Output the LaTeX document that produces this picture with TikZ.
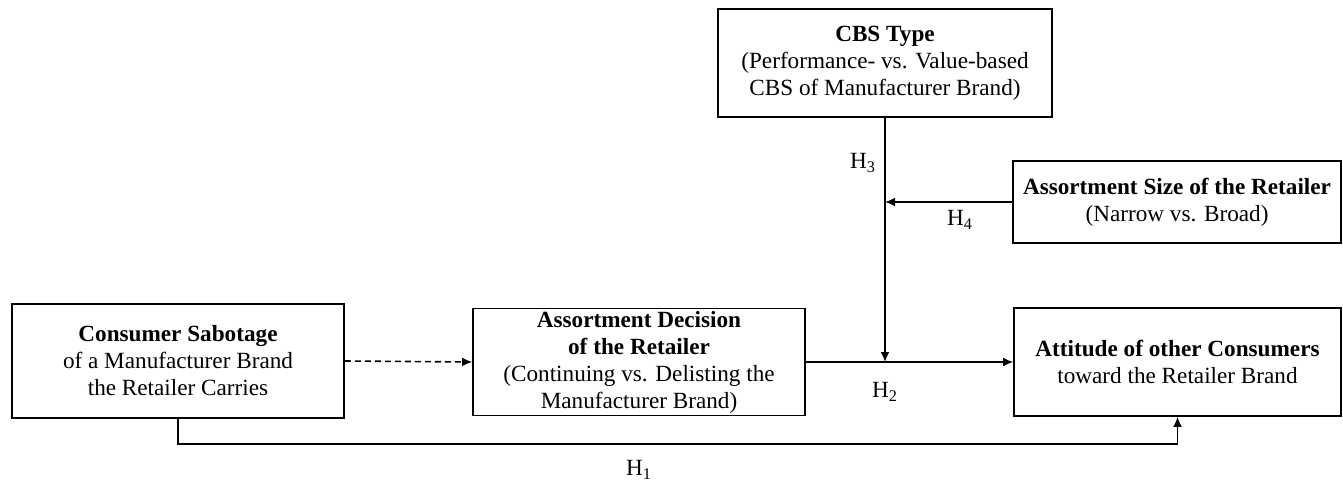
\documentclass[tikz,border=0pt]{standalone}
\usepackage{fontspec}
\setmainfont{Liberation Serif}
\usetikzlibrary{arrows.meta, positioning}
\tikzset{
    block/.style={rectangle, draw, line width=0.8pt, align=center, inner sep=0pt, font=\fontsize{11.6}{13.5}\selectfont},
    arrow/.style={line width=0.8pt, -{Latex[length=5pt, width=4.4pt]}},
    hlabel/.style={font=\fontsize{11.6}{13.5}\selectfont}
}

\begin{document}
\begin{tikzpicture}[x=0.5pt, y=-0.5pt]
        \useasboundingbox (0,0) rectangle (1343,488);

        \node (CS_box) [block, minimum width=166pt, minimum height=57pt] at (178, 361) {\textbf{Consumer Sabotage}\\of a Manufacturer Brand\\the Retailer Carries};
        \node (AD_box) [block, minimum width=166pt, minimum height=53.5pt] at (639, 362) {\textbf{Assortment Decision}\\\textbf{of the Retailer}\\(Continuing vs. Delisting the\\Manufacturer Brand)};
        \node (AC_box) [block, minimum width=163.5pt, minimum height=54pt] at (1177.5, 362) {\textbf{Attitude of other Consumers}\\toward the Retailer Brand};
        \node (CBS_box) [block, minimum width=167pt, minimum height=54pt] at (885, 63) {\textbf{CBS Type}\\(Performance- vs. Value-based\\CBS of Manufacturer Brand)};
        \node (AS_box) [block, minimum width=164pt, minimum height=41pt] at (1177, 202) {\textbf{Assortment Size of the Retailer}\\(Narrow vs. Broad)};

        \coordinate (H2_mid) at (885, 362);
        \coordinate (H3_mid) at (885, 202);
        \coordinate (H1_low) at (639, 444);

        % Main effects
        \draw[arrow, dashed, dash pattern=on 3pt off 2pt] (CS_box.east) -- (AD_box.west);
        \draw[arrow] (AD_box.east) -- (AC_box.west);
        \draw[arrow] (CS_box.south) |- (H1_low) -| (AC_box.south);

        % Moderators
        \draw[arrow] (CBS_box.south) -- (H2_mid);
        \draw[arrow] (AS_box.west) -- (H3_mid);

        \node (H1_label) [hlabel] at (639, 470) {H\textsubscript{1}};
        \node (H2_label) [hlabel] at (885, 392) {H\textsubscript{2}};
        \node (H3_label) [hlabel] at (863, 163) {H\textsubscript{3}};
        \node (H4_label) [hlabel] at (960, 220) {H\textsubscript{4}};

    \end{tikzpicture}
\end{document}
